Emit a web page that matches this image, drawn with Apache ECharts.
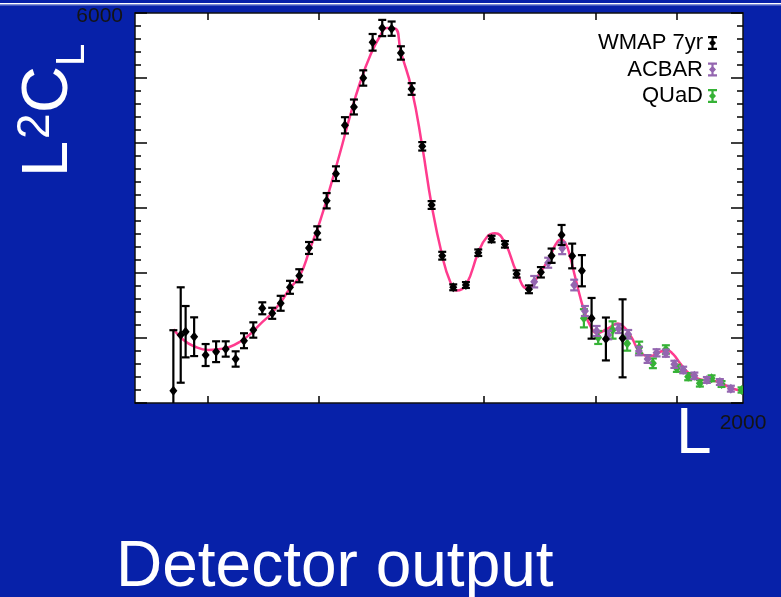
<!DOCTYPE html>
<html>
<head>
<meta charset="utf-8">
<script src="https://cdn.jsdelivr.net/npm/echarts@6/dist/echarts.min.js"></script>
<style>
  html, body { margin: 0; padding: 0; background: #0721a9; }
  #chart { width: 781px; height: 597px; }
</style>
</head>
<body>
<div id="chart"></div>
<script>
// Multipole axis is drawn on an L^0.4 stretch so low and high L both get room.
const X_POWER = 0.4;
const L_MAX = 2000;
const Y_MAX = 6000;
const Y_STEP = 1000;

const xTickL = [10, 100, 500, 1000, 1500];
const xLabelL = [2000];
const yLabelValues = [6000];

// Best-fit model spectrum
const modelL = [2, 3.6, 5.7, 10.1, 14.6, 19.3, 24.8, 31.1, 38.3, 46.4, 55.5, 65.6, 76.7, 88.8,
  102.1, 116.5, 132.0, 148.6, 166.5, 185.6, 206.0, 221.1, 239.0, 253, 279.3, 306.8, 332.5, 363,
  386.2, 407, 437.1, 479, 509.8, 539.3, 577.5, 624.2, 669.3, 723.8, 769.4, 797.5, 821.4, 845.6,
  865.5, 890.5, 916.1, 942.1, 968.5, 1006, 1067, 1124, 1165.5, 1207.6, 1256.8, 1319.9, 1385,
  1431.6, 1472.3, 1520.6, 1569.9, 1627.3, 1701, 1776.6, 1854.2, 1933.8, 2000];
const modelDl = [1134, 969, 877, 815, 831, 866, 943, 1057, 1211, 1354, 1534, 1765, 1962, 2369,
  2795, 3308, 3846, 4411, 4923, 5334, 5642, 5769, 5762, 5400, 4831, 3949, 3046, 2266,
  1877, 1731, 1815, 2312, 2554, 2611, 2462, 2015, 1762, 2000, 2251, 2446, 2515, 2446,
  2262, 1954, 1646, 1385, 1200, 1077, 1146, 1223, 1154, 1000, 785, 723, 785,
  815, 754, 615, 485, 395, 349, 338, 277, 211, 185];

// WMAP 7-year band powers
const wmapL = [2, 3.1, 4.0, 5.9, 9.2, 13.0, 17.2, 22.3, 27.2, 33.4, 40.1, 48.4, 56.2, 65.6, 75.9,
  87.6, 98.4, 111.6, 125.6, 140.1, 155.6, 172.7, 191.0, 210.9, 231.5, 253, 279.3, 306.8, 332.5,
  363, 396.4, 437.1, 479, 526.9, 577.5, 624.2, 675.8, 728.3, 777.2, 824.7, 876.9, 926.4, 977.4,
  1055.8, 1151.9];
const wmapDl = [190, 1046, 1097, 1020, 738, 789, 831, 677, 958, 1123, 1457, 1380, 1534, 1780, 1958,
  2385, 2615, 3112, 3528, 4272, 4554, 5000, 5549, 5769, 5759, 5385, 4831, 3949, 3046,
  2266, 1780, 1815, 2312, 2523, 2441, 1985, 1749, 2011, 2266, 2585, 2262, 2035, 1303,
  985, 995];
const wmapErr = [930, 734, 395, 298, 169, 160, 118, 118, 115, 118, 92, 85, 115, 100, 100,
  92, 103, 118, 113, 125, 115, 118, 128, 125, 110, 103, 90, 65, 60,
  60, 45, 45, 50, 50, 50, 55, 60, 80, 110, 154, 190, 240, 313,
  330, 600];

// ACBAR band powers
const acbarL = [698.6, 761.5, 827.6, 887.0, 942.1, 1004.4, 1068.7, 1128.3, 1185.3, 1250.6, 1305.3,
  1363.2, 1424.8, 1482.5, 1543.7, 1623.8, 1716, 1815.1, 1901.6];
const acbarDl = [1866, 2158, 2380, 1815, 1415, 1108, 1046, 1142, 1057, 800, 677,
  772, 766, 595, 508, 418, 354, 323, 220];
const acbarErr = [88, 77, 90, 82, 77, 77, 66, 66, 66, 66, 60,
  55, 55, 55, 50, 50, 45, 45, 45];

// QUaD band powers
const quadL = [936.8, 1013.2, 1093.7, 1179.2, 1252.4, 1339.2, 1424.8, 1499.7, 1579.2, 1663.9,
  1751.5, 1828.3, 1988];
const quadDl = [1303, 1008, 1123, 915, 854, 611, 823, 534, 405, 303, 380, 292, 200];
const quadErr = [140, 100, 133, 110, 90, 75, 65, 55, 55, 50, 45, 45, 40];

const fx = l => Math.pow(l, X_POWER);

const COLORS = { model: '#ff3b8e', wmap: '#000000', acbar: '#9466b0', quad: '#36b236' };
const ERRBAR_ICON = 'path://M0,0H9V2.2H0Z M3.4,0H5.6V14H3.4Z M0,11.8H9V14H0Z M4.5,3.2L8,7L4.5,10.8L1,7Z';
const FONT = 'Liberation Sans, Arial, sans-serif';

function errorSeries(name, color, L, D, E) {
  return {
    type: 'custom',
    name: name,
    clip: true,
    itemStyle: { color: color },
    encode: { x: 0, y: 1 },
    data: L.map((l, i) => [fx(l), D[i], E[i]]),
    renderItem: function (params, api) {
      const x = api.value(0), v = api.value(1), e = api.value(2);
      const c = api.coord([x, v]);
      const top = api.coord([x, v + e])[1];
      const bot = api.coord([x, v - e])[1];
      const hw = 4;
      const st = { stroke: color, lineWidth: 2.2 };
      return {
        type: 'group',
        children: [
          { type: 'line', shape: { x1: c[0], y1: top, x2: c[0], y2: bot }, style: st },
          { type: 'line', shape: { x1: c[0] - hw, y1: top, x2: c[0] + hw, y2: top }, style: st },
          { type: 'line', shape: { x1: c[0] - hw, y1: bot, x2: c[0] + hw, y2: bot }, style: st },
          { type: 'polygon', shape: { points: [[c[0], c[1] - 5], [c[0] + 4, c[1]], [c[0], c[1] + 5], [c[0] - 4, c[1]]] },
            style: { fill: color } }
        ]
      };
    }
  };
}

const chart = echarts.init(document.getElementById('chart'), null, { renderer: 'canvas' });

function frameLine() {
  return { show: true, onZero: false, lineStyle: { color: '#111', width: 1.5 } };
}
function xAxisDef(position, label) {
  return {
    type: 'value', min: 0, max: fx(L_MAX), position: position,
    axisLine: frameLine(),
    splitLine: { show: false },
    axisTick: { show: true, inside: true, length: 7, customValues: xTickL.map(fx), lineStyle: { color: '#000', width: 1.5 } },
    axisLabel: label
  };
}
function yAxisDef(position, label) {
  return {
    type: 'value', min: 0, max: Y_MAX, interval: Y_STEP, position: position,
    axisLine: frameLine(),
    splitLine: { show: false },
    axisTick: { show: true, inside: true, length: 12, lineStyle: { color: '#000', width: 1.5 } },
    minorTick: { show: true, splitNumber: 5, length: 6, lineStyle: { color: '#000', width: 1.5 } },
    axisLabel: label
  };
}

chart.setOption({
  backgroundColor: '#0721a9',
  animation: false,
  grid: { left: 135, right: 38, top: 13, bottom: 194, containLabel: false, outerBoundsMode: 'none',
    show: true, backgroundColor: '#ffffff', borderWidth: 0 },
  xAxis: [
    xAxisDef('bottom', { show: true, customValues: xLabelL.map(fx), margin: 10,
      formatter: v => String(Math.round(Math.pow(v, 1 / X_POWER))),
      color: '#141414', fontSize: 21, fontFamily: FONT }),
    xAxisDef('top', { show: false })
  ],
  yAxis: [
    yAxisDef('left', { show: true, margin: 12, customValues: yLabelValues,
      formatter: v => '{t|' + v + '}',
      rich: { t: { color: '#141414', fontSize: 21, fontFamily: FONT, padding: [6, 0, 0, 0] } },
      color: '#141414', fontSize: 21, fontFamily: FONT }),
    yAxisDef('right', { show: false })
  ],
  legend: {
    orient: 'vertical', align: 'right', right: 59, top: 27,
    itemWidth: 9, itemHeight: 14, itemGap: 4.5, selectedMode: false,
    textStyle: { color: '#000', fontSize: 22, lineHeight: 22, fontFamily: FONT },
    data: [
      { name: 'WMAP 7yr', icon: ERRBAR_ICON, itemStyle: { color: COLORS.wmap } },
      { name: 'ACBAR', icon: ERRBAR_ICON, itemStyle: { color: COLORS.acbar } },
      { name: 'QUaD', icon: ERRBAR_ICON, itemStyle: { color: COLORS.quad } }
    ]
  },
  series: [
    {
      type: 'line', name: 'model', smooth: true, showSymbol: false, clip: true,
      lineStyle: { color: COLORS.model, width: 2.5 }, itemStyle: { color: COLORS.model },
      data: modelL.map((l, i) => [fx(l), modelDl[i]]), z: 1
    },
    Object.assign(errorSeries('QUaD', COLORS.quad, quadL, quadDl, quadErr), { z: 2 }),
    Object.assign(errorSeries('ACBAR', COLORS.acbar, acbarL, acbarDl, acbarErr), { z: 3 }),
    Object.assign(errorSeries('WMAP 7yr', COLORS.wmap, wmapL, wmapDl, wmapErr), { z: 4 })
  ],
  graphic: [
    { type: 'rect', left: 0, top: 3, shape: { width: 781, height: 1.5 }, style: { fill: '#ffffff' } },
    { type: 'rect', left: 0, top: 4.5, shape: { width: 781, height: 1 }, style: { fill: '#8090d8' } },
    {
      // vertical axis title  L²C_L, reading bottom to top
      type: 'group', x: 72, y: 172, rotation: Math.PI / 2,
      children: [
        { type: 'text', x: -5, y: -22.5, style: { text: 'L', fill: '#fff', fontSize: 65, verticalAlign: 'middle', fontFamily: FONT } },
        { type: 'text', x: 33, y: -36, style: { text: '2', fill: '#fff', fontSize: 46, verticalAlign: 'middle', fontFamily: FONT } },
        { type: 'text', x: 59, y: -22.5, style: { text: 'C', fill: '#fff', fontSize: 65, verticalAlign: 'middle', fontFamily: FONT } },
        { type: 'text', x: 106, y: 1, style: { text: 'L', fill: '#fff', fontSize: 40, verticalAlign: 'middle', fontFamily: FONT } }
      ]
    },
    { type: 'text', x: 676, y: 435, style: { text: 'L', fill: '#fff', fontSize: 64, verticalAlign: 'middle', fontFamily: FONT } },
    { type: 'text', x: 116, y: 568, style: { text: 'Detector output', fill: '#fff', fontSize: 64, verticalAlign: 'middle', fontFamily: FONT } }
  ]
});
</script>
</body>
</html>
